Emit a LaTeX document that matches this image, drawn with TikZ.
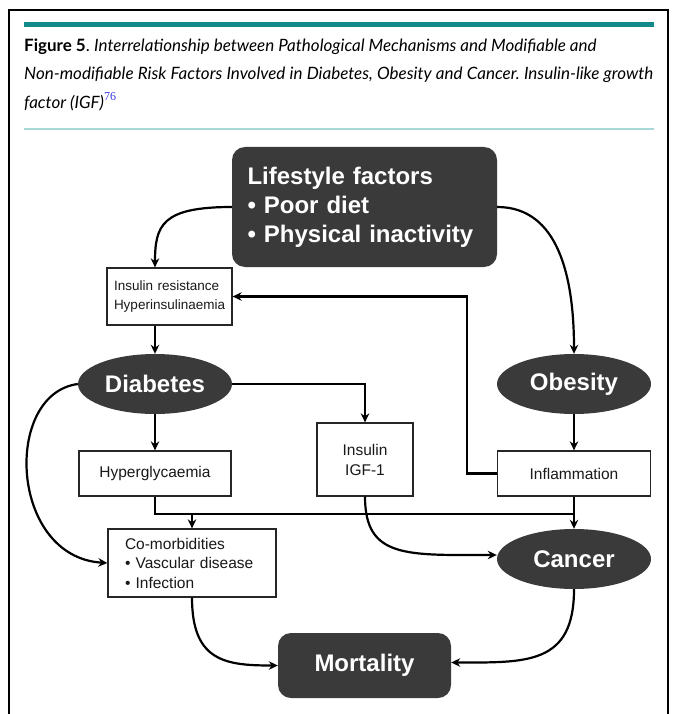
\documentclass[tikz,border=0pt]{standalone}
\usepackage{fontspec}
\usetikzlibrary{shapes.geometric,arrows.meta}
\newfontfamily\capfont{Lato}
\newfontfamily\diafont{Liberation Sans}
\newfontfamily\supfont{Liberation Serif}
\definecolor{dk}{HTML}{3A3A3A}
\definecolor{tealbar}{HTML}{128A8A}
\definecolor{tealline}{HTML}{A9D6D6}
\definecolor{supblue}{HTML}{3A3AE0}
\frenchspacing
\begin{document}
\begin{tikzpicture}[x=1pt,y=-1pt,
  darkbox/.style={fill=dk, rounded corners=13pt, text=white, inner sep=0pt},
  ell/.style={ellipse, fill=dk, inner sep=0pt, minimum width=154pt, minimum height=60pt, text=white, font=\diafont\bfseries\fontsize{24}{28}\selectfont},
  wbox/.style={draw=black!85, line width=1.3pt, fill=white, inner sep=0pt, text=black!90, font=\diafont\fontsize{15.5}{19.5}\selectfont},
  conn/.style={line width=2.2pt, -{Stealth[length=9pt,width=8.5pt]}},
  plain/.style={line width=2.2pt},
  captext/.style={anchor=base west, inner sep=0pt, font=\capfont\fontsize{17}{20}\selectfont}
]
\useasboundingbox (0,0) rectangle (674,714);
% frame and rules
\draw[line width=1.2pt] (9,714) -- (9,10) -- (668,10) -- (668,714);
\fill[tealbar] (24,22) rectangle (654,27.5);
\fill[tealline] (24,128) rectangle (654,130.5);
% caption
\node[captext] (cap1) at (24,52)
  {{\bfseries Figure 5}. \itshape Interrelationship between Pathological Mechanisms and Modifiable and};
\node[captext] (cap2) at (24,80)
  {\hbox to 629pt{\itshape Non-modifiable Risk Factors Involved in Diabetes, Obesity and Cancer. Insulin-like growth}};
\node[captext] (cap3) at (24,109)
  {\itshape factor (IGF)\raisebox{8pt}{\supfont\upshape\fontsize{12}{12}\selectfont\color{supblue}76}};
% nodes
\node[darkbox, minimum width=265pt, minimum height=120pt, text width=234pt, align=left,
      font=\diafont\bfseries\fontsize{24}{29}\selectfont] (life) at (364.5,207)
  {Lifestyle factors\\\textbullet\ Poor diet\\\textbullet\ Physical inactivity};
\node[wbox, minimum width=125pt, minimum height=57pt, text width=111pt, align=left,
      font=\diafont\fontsize{13.5}{19}\selectfont] (insres) at (169.5,296.5)
  {Insulin resistance\\Hyperinsulinaemia};
\node[ell] (diab) at (155,384) {Diabetes};
\node[ell] (obes) at (574,384) {Obesity};
\node[wbox, minimum width=152pt, minimum height=45pt] (hyper) at (155,473.5) {Hyperglycaemia};
\node[wbox, minimum width=96pt, minimum height=73pt, align=center, font=\diafont\fontsize{15.5}{20}\selectfont] (igf) at (365,459.5) {Insulin\\IGF-1};
\node[wbox, minimum width=153pt, minimum height=45pt] (infl) at (574,473.5) {Inflammation};
\node[wbox, minimum width=168pt, minimum height=68pt, text width=134pt, align=left,
      font=\diafont\fontsize{15.5}{19.5}\selectfont] (como) at (192,563)
  {Co-morbidities\\\textbullet\ Vascular disease\\\textbullet\ Infection};
\node[ell] (canc) at (574,559) {Cancer};
\node[darkbox, minimum width=173pt, minimum height=65pt, font=\diafont\bfseries\fontsize{24}{28}\selectfont] (mort) at (364.5,665.5) {Mortality};
\coordinate (jl) at (155,514);
\coordinate (jr) at (574,514);
% connectors
\draw[conn] (life.west) .. controls +(-70,0) and +(0,-42) .. (insres.north -| diab.north);
\draw[conn] (life.east) .. controls +(62,0) and +(0,-75) .. (obes.north);
\draw[conn] (insres.south -| diab.north) -- (diab.north);
\draw[conn] (diab.east) -| (igf.north);
\draw[conn] (diab.south) -- (hyper.north);
\draw[conn] (obes.south) -- (infl.north);
\draw[conn] (infl.west) -- ++(-30,0) |- (insres.east);
\draw[plain] (hyper.south) -- (jl) -- (jr);
\draw[conn] (infl.south) -- (canc.north);
\draw[conn] (como.north |- jl) -- (como.north);
\draw[conn] (diab.west) .. controls +(-75,10) and +(-98,-6) .. (como.west);
\draw[conn] (igf.south) .. controls +(0,62) and +(-90,0) .. ([yshift=4pt]canc.west);
\draw[conn] (como.south) .. controls +(0,64) and +(-52,0) .. (mort.west);
\draw[conn] (canc.south) .. controls +(0,76) and +(75,0) .. ([yshift=3pt]mort.east);
\end{tikzpicture}
\end{document}
